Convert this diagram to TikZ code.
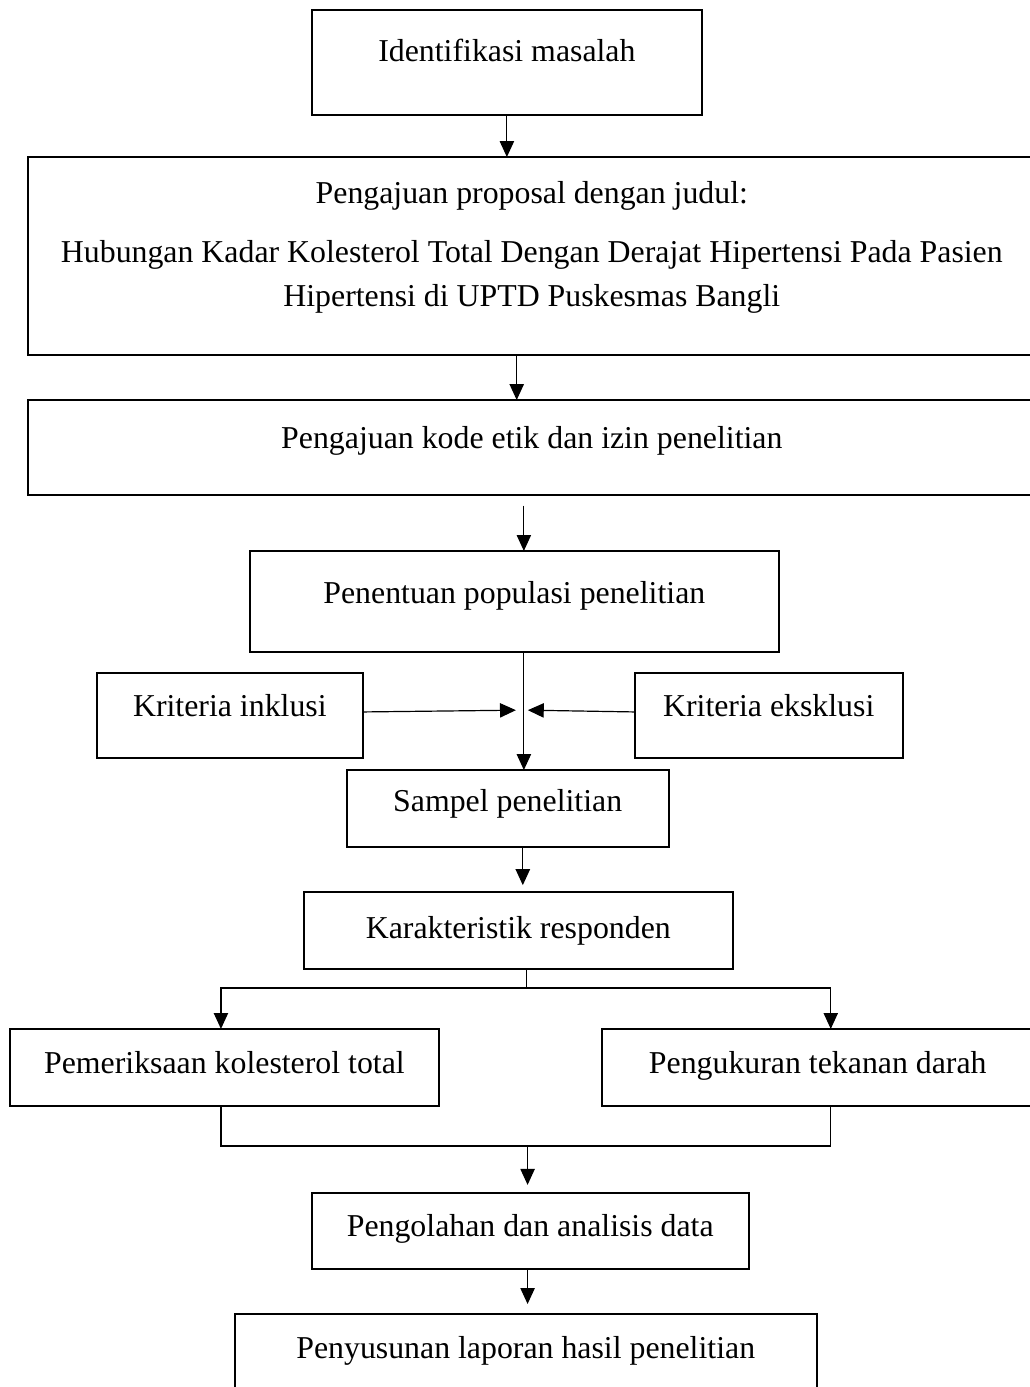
\documentclass[tikz,border=0pt]{standalone}
\usepackage{fontspec}
\setmainfont{Liberation Serif}
\usetikzlibrary{arrows.meta, positioning}

\begin{document}
\begin{tikzpicture}[
    stepbox/.style={draw, line width=0.85pt, align=center, inner sep=2pt, outer sep=0pt,
                    font=\fontsize{12pt}{16.6pt}\selectfont,
                    text height=8.5pt, text depth=#1},
    stepbox/.default=6pt,
    link/.style={line width=0.45pt},
    >={Triangle[length=6pt, width=5.4pt]}
  ]
    \useasboundingbox (0,0) rectangle (388.3pt,-522.9pt);

    \node[stepbox=9.4pt, minimum width=147pt, minimum height=39.6pt] (idn) at (191.1pt,-23.6pt) {Identifikasi masalah};
    \node[stepbox=8.6pt, text height=47pt, minimum width=380pt, minimum height=74.6pt,
          below=15.8pt of idn, xshift=9.4pt] (prop)
      {Pengajuan proposal dengan judul:\\[5.6pt]
       Hubungan Kadar Kolesterol Total Dengan Derajat Hipertensi Pada Pasien\\
       Hipertensi di UPTD Puskesmas Bangli};
    \node[stepbox=8pt, minimum width=380pt, minimum height=35.8pt, below=17pt of prop] (etik) {Pengajuan kode etik dan izin penelitian};
    \node[stepbox=7.2pt, minimum width=199.4pt, minimum height=38.1pt, below=21.1pt of etik, xshift=-6.6pt] (pop) {Penentuan populasi penelitian};
    \coordinate[below=21.9pt of pop.south, xshift=3.6pt] (jn);
    \node[stepbox=8pt, minimum width=100.3pt, minimum height=32pt, left=60.7pt of jn, yshift=-2pt] (ink) {Kriteria inklusi};
    \node[stepbox=8pt, minimum width=101pt, minimum height=32pt, right=41.8pt of jn, yshift=-2pt] (eks) {Kriteria eksklusi};
    \node[stepbox=6.4pt, minimum width=121.4pt, minimum height=29pt, below=44.5pt of pop, xshift=-2.5pt] (smp) {Sampel penelitian};
    \node[stepbox=2.6pt, minimum width=161.7pt, minimum height=29pt, below=17pt of smp, xshift=4pt] (kar) {Karakteristik responden};
    \node[stepbox=4.2pt, minimum width=161.7pt, minimum height=29pt, below=22.6pt of kar, xshift=-110.8pt] (kol) {Pemeriksaan kolesterol total};
    \node[stepbox=4.2pt, minimum width=162.9pt, minimum height=29pt, below=22.6pt of kar, xshift=112.9pt] (tek) {Pengukuran tekanan darah};
    \node[stepbox=4.5pt, minimum width=164.7pt, minimum height=28.7pt, below=84.4pt of kar, xshift=4.5pt] (olah) {Pengolahan dan analisis data};
    \node[stepbox=6pt, minimum width=219.4pt, minimum height=30.9pt, below=17pt of olah, xshift=-1.7pt] (lap) {Penyusunan laporan hasil penelitian};

    \draw[->, link] (idn.south) -- (idn.south |- prop.north);
    \draw[->, link] ([xshift=-5.7pt]prop.south) -- ([xshift=-5.7pt]prop.south |- etik.north);
    \draw[->, link, shorten <=4pt] ([xshift=-3pt]etik.south) -- ([xshift=-3pt]etik.south |- pop.north);
    \draw[->, link] ([xshift=3.6pt]pop.south) -- ([xshift=3.6pt]pop.south |- smp.north);
    \draw[->, link, shorten >=3pt] ([yshift=1.3pt]ink.east) -- (jn);
    \draw[->, link, shorten >=1.5pt] ([yshift=1.3pt]eks.west) -- (jn);
    \draw[->, link, shorten >=2.6pt] ([xshift=5.7pt]smp.south) -- ([xshift=5.7pt]smp.south |- kar.north);

    \coordinate[below=7.2pt of kar.south, xshift=3.2pt] (split);
    \draw[link] ([xshift=3.2pt]kar.south) -- (split);
    \draw[->, link] (split) -| ([xshift=-1.3pt]kol.north);
    \draw[->, link] (split) -| ([xshift=4.9pt]tek.north);

    \coordinate[above=17.7pt of olah.north, xshift=-1pt] (merge);
    \draw[link] ([xshift=-1.3pt]kol.south) |- (merge) -| ([xshift=4.9pt]tek.south);
    \draw[->, link, shorten >=3pt] (merge) -- (merge |- olah.north);
    \draw[->, link, shorten >=3.8pt] ([xshift=-1pt]olah.south) -- ([xshift=-1pt]olah.south |- lap.north);
  \end{tikzpicture}
\end{document}
